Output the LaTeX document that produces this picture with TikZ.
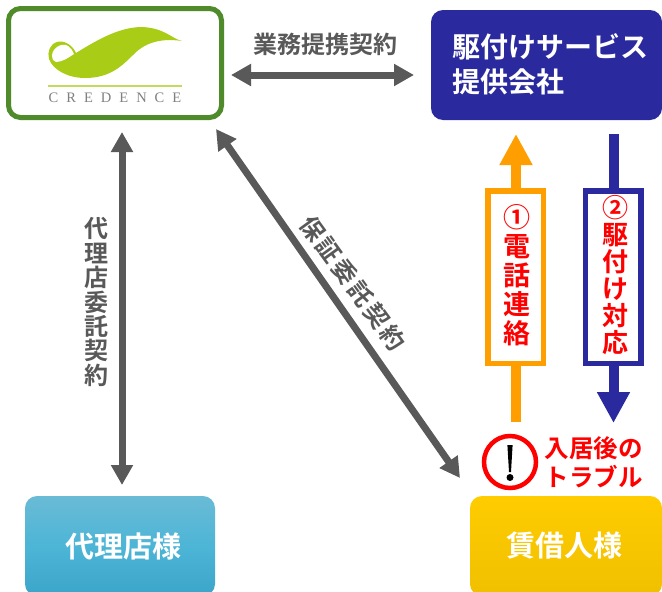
\documentclass[tikz,border=0pt]{standalone}
\usepackage{fontspec}
\usetikzlibrary{arrows.meta}
\newfontfamily\cjk{Noto Sans CJK JP}[BoldFont={Noto Sans CJK JP Bold}]
\newfontfamily\logofont{Liberation Serif}
\definecolor{leafgreen}{HTML}{4F8A2B}
\definecolor{lime}{HTML}{A9CC17}
\definecolor{navy}{HTML}{2A2A9E}
\definecolor{amber}{HTML}{FF9E00}
\definecolor{darkgray}{HTML}{595959}
\definecolor{skytop}{HTML}{6ABBD6}
\definecolor{skymid}{HTML}{4DB5D6}
\definecolor{skybot}{HTML}{3BA5C9}
\definecolor{goldtop}{HTML}{FFCC00}
\definecolor{goldbot}{HTML}{F0C000}
\tikzset{
  x=1pt,y=-1pt,
  every node/.style={font=\cjk\bfseries, inner sep=0pt, outer sep=0pt},
  partybox/.style={rounded corners=12pt, minimum width=#1, text=white},
  link/.style={draw=darkgray, line width=7pt, {Triangle[width=21pt,length=20pt]}-{Triangle[width=21pt,length=20pt]}},
  flow/.style={line width=10pt, -{Triangle[width=31pt,length=31pt]}},
  stepbox/.style={draw=#1, line width=5.5pt, fill=white, text=red, minimum width=55.5pt, minimum height=172.5pt, align=center, anchor=center},
  graylabel/.style={text=darkgray},
  size/.style={font=\cjk\bfseries\fontsize{#1}{#1}\selectfont},
}
\begin{document}
\begin{tikzpicture}
\useasboundingbox (0,0) rectangle (662,592);
\fill[white] (0,0) rectangle (662,592);

% parties
\node[partybox=213pt, minimum height=109pt, draw=leafgreen, line width=5pt, fill=white] (credence) at (115,63) {};
\node[partybox=231pt, minimum height=110pt, fill=navy] (provider) at (546.5,65) {};
\node[text=white, align=left, anchor=west, font=\cjk\bfseries\fontsize{28}{35}\selectfont] (providertext) at (452,64.5) {駆付けサービス\\提供会社};
\node[partybox=190pt, minimum height=100pt, top color=skytop, bottom color=skybot, middle color=skymid, size=29] (agent) at (120,546) {\hspace{7pt}代理店様};
\node[partybox=192pt, minimum height=100pt, top color=goldtop, bottom color=goldbot, size=29] (tenant) at (566,546) {賃借人様\kern4pt\relax};

% logo
\fill[lime] (182,41) .. controls (172,39) and (165,28) .. (142,27)
  .. controls (118,27) and (94,42) .. (76,53)
  .. controls (72,44) and (63,40) .. (57,42)
  .. controls (50,44) and (47,52) .. (49,59)
  .. controls (53,70) and (68,78) .. (85,78)
  .. controls (110,78) and (122,66) .. (134,54)
  .. controls (146,42) and (162,38) .. (182,41) -- cycle;
\fill[white] (52,56) .. controls (52,48) and (62,42) .. (68,46)
  .. controls (71,48) and (73,51) .. (74,54)
  .. controls (68,58) and (62,62) .. (56,62)
  .. controls (53,61) and (52,59) .. (52,56) -- cycle;
\draw[lime!70!white, line width=1.3pt] (48,86) -- (182,86);
\node[font=\logofont\fontsize{14.5}{14.5}\selectfont, text=gray] (credname) at (115,98) {C\hspace{8pt}R\hspace{8pt}E\hspace{8pt}D\hspace{8pt}E\hspace{8pt}N\hspace{8pt}C\hspace{8pt}E};

% contract links
\coordinate (c-e) at (231,75);
\coordinate (p-w) at (414,75);
\draw[link] (c-e) -- (p-w);
\coordinate (c-s) at (122,132);
\coordinate (a-n) at (122,485);
\draw[link] (c-s) -- (a-n);
\coordinate (c-se) at (216,129);
\coordinate (t-nw) at (460,478);
\draw[link] (c-se) -- (t-nw);

\node[graylabel, size=24] (biz) at (325.5,44.5) {業務提携契約};
\node[graylabel, font=\cjk\bfseries\fontsize{24}{24.4}\selectfont, align=center] (agency) at (96,302) {代\\理\\店\\委\\託\\契\\約};
\node[graylabel, size=24, rotate=-54] (guarantee) at (353,283) {保\hspace{3pt}証\hspace{3pt}委\hspace{3pt}託\hspace{3pt}契\hspace{3pt}約};

% call and dispatch
\coordinate (callstart) at (516,422);
\coordinate (callend) at (516,134);
\draw[flow, draw=amber, amber] (callstart) -- (callend);
\coordinate (dispstart) at (613.5,134);
\coordinate (dispend) at (613.5,423);
\draw[flow, draw=navy, navy] (dispstart) -- (dispend);
\node[stepbox=amber] (callbox) at (515.5,277) {};
\node[stepbox=navy] (dispbox) at (613,277) {};
\node[text=red, font=\cjk\bfseries\fontsize{27}{29}\selectfont, align=center] (calltext) at (516.5,275) {①\\電\\話\\連\\絡};
\node[text=red, font=\cjk\bfseries\fontsize{26}{27}\selectfont, align=center] (disptext) at (615,275) {②\\駆\\付\\け\\対\\応};

% trouble
\node[circle, draw=red, line width=4.5pt, fill=white, minimum size=52pt] (alert) at (510,462) {};
\fill[black] (507.4,445) -- (512.6,445) -- (511,472) -- (509,472) -- cycle;
\fill[black] (510,477.5) circle (3.5pt);
\node[text=red, font=\cjk\bfseries\fontsize{24.5}{29}\selectfont, align=left] (trouble) at (593.5,462.5) {入居後の\\トラブル};
\end{tikzpicture}
\end{document}
